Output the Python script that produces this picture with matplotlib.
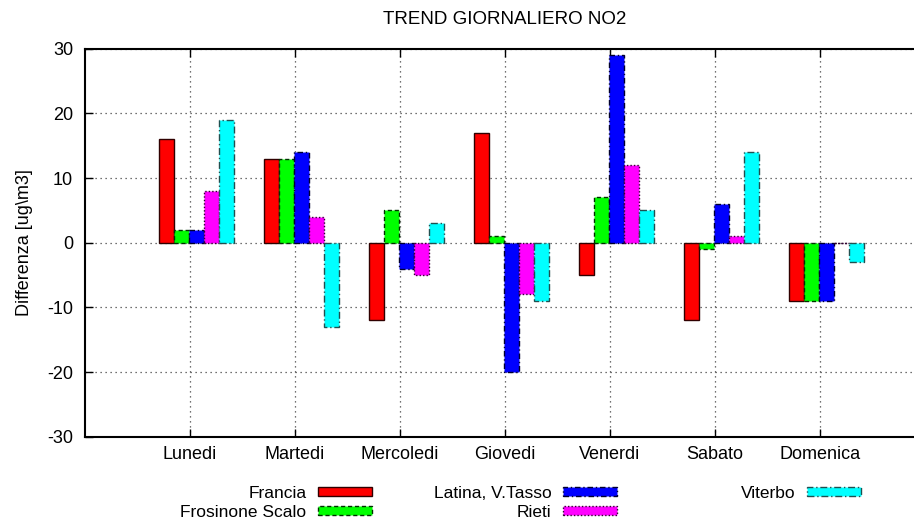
import matplotlib
matplotlib.use("Agg")
import matplotlib.pyplot as plt
import numpy as np

plt.rcParams['font.family'] = ['Liberation Sans', 'DejaVu Sans']

days = ["Lunedi", "Martedi", "Mercoledi", "Giovedi", "Venerdi", "Sabato", "Domenica"]
series_names = ["Francia", "Frosinone Scalo", "Latina, V.Tasso", "Rieti", "Viterbo"]
francia = [16, 13, -12, 17, -5, -12, -9]
frosinone = [2, 13, 5, 1, 7, -1, -9]
latina = [2, 14, -4, -20, 29, 6, -9]
rieti = [8, 4, -5, -8, 12, 1, 0]
viterbo = [19, -13, 3, -9, 5, 14, -3]
yticks = [-30, -20, -10, 0, 10, 20, 30]

series = [francia, frosinone, latina, rieti, viterbo]
colors = ["#ff0000", "#00ff00", "#0000ff", "#ff00ff", "#00ffff"]
edgecols = ["#300000", "#003000", "#000030", "#300030", "#205050"]
lstyles = ["-", (0, (3, 2)), (0, (4, 2, 1, 2)), (0, (1, 1.5)), (0, (5, 2, 1, 2))]

W, H = 914, 521
fig = plt.figure(figsize=(W / 100, H / 100), dpi=100)
left, right, top, bottom = 84.5, 925.0, 48.7, 436.7
ax = fig.add_axes([left / W, 1 - bottom / H, (right - left) / W, (bottom - top) / H])

x = np.arange(len(days))
bw = 1 / 7
handles = []
for j, (vals, c, ec, ls, name) in enumerate(zip(series, colors, edgecols, lstyles, series_names)):
    b = ax.bar(x - 0.224 + j * bw, vals, width=bw, color=c, edgecolor=ec,
               linewidth=1.0, linestyle=ls, label=name, zorder=3)
    handles.append(b)

ax.set_xlim(-1, 7)
ax.set_ylim(-30, 30)
ax.set_xticks(x)
ax.set_xticklabels(days, fontsize=13)
ax.set_yticks(yticks)
ax.set_yticklabels([str(v) for v in yticks], fontsize=13)
ax.tick_params(direction='in', length=6, width=1, top=True, right=True)
ax.tick_params(axis='x', pad=7.0)
ax.tick_params(axis='y', pad=8.3)
ax.grid(True, linestyle=(0, (1, 3)), color='#444444', linewidth=0.9, zorder=0)
for s in ax.spines.values():
    s.set_linewidth(1.5)
    s.set_color('black')

ax.set_ylabel("Differenza [ug\\m3]", fontsize=13, labelpad=10)
ax.set_title("TREND GIORNALIERO NO2", fontsize=13.5, pad=18)

legend_cols = [([0, 1], 372), ([2, 3], 617), ([4], 861)]
kw = dict(loc='upper right', frameon=False, markerfirst=False, fontsize=12.5,
          handlelength=3.1, handleheight=0.4, handletextpad=0.68,
          labelspacing=0.22, borderpad=0, borderaxespad=0,
          bbox_transform=fig.transFigure)
for idx, xr in legend_cols:
    fig.legend([handles[i] for i in idx], [series_names[i] for i in idx],
               bbox_to_anchor=(xr / W, 1 - 486 / H), **kw)

fig.savefig("out.png", dpi=100)
